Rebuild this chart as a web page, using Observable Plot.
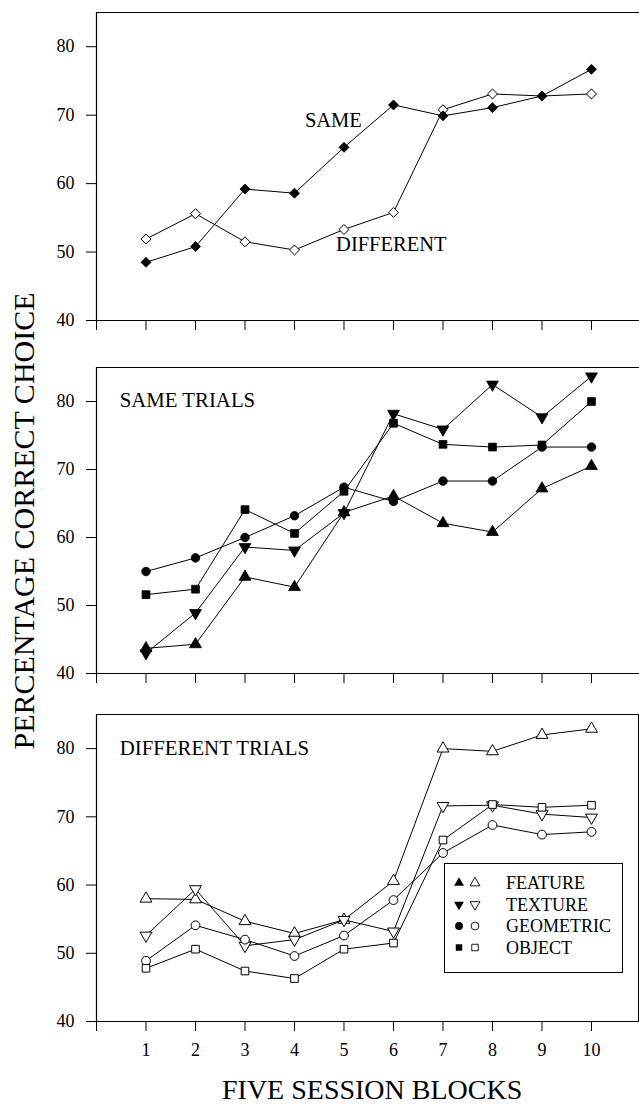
<!DOCTYPE html>
<html>
<head>
<meta charset="utf-8">
<script src="https://cdn.jsdelivr.net/npm/d3@7"></script>
<script src="https://cdn.jsdelivr.net/npm/@observablehq/plot@0.6"></script>
<style>
  html, body { margin: 0; padding: 0; background: #fff; }
  #chart { position: relative; width: 639px; height: 1108px; overflow: hidden; font-family: "Liberation Serif", "DejaVu Serif", serif; color: #000; }
  .abs { position: absolute; }
  .ylabel { position: absolute; font-size: 30px; line-height: 30px; white-space: nowrap; transform-origin: center center; }
  .xlabel { position: absolute; font-size: 28px; line-height: 28px; white-space: nowrap; }
</style>
</head>
<body>
<div id="chart"></div>
<script>
// ---- data ----
const blocks = [1, 2, 3, 4, 5, 6, 7, 8, 9, 10];
const xTicks = [0, 1, 2, 3, 4, 5, 6, 7, 8, 9, 10];
const yTicks = [40, 50, 60, 70, 80];

const topSame      = [48.5, 50.8, 59.2, 58.6, 65.3, 71.5, 69.9, 71.1, 72.8, 76.7];
const topDifferent = [51.9, 55.6, 51.5, 50.3, 53.3, 55.8, 70.8, 73.1, 72.8, 73.1];

const sameFeature   = [43.7, 44.3, 54.2, 52.7, 63.7, 66.1, 62.1, 60.8, 67.2, 70.5];
const sameTexture   = [43.0, 48.9, 58.6, 58.1, 63.6, 78.2, 75.9, 82.5, 77.7, 83.7];
const sameGeometric = [55.0, 57.0, 60.0, 63.2, 67.4, 65.3, 68.3, 68.3, 73.3, 73.3];
const sameObject    = [51.6, 52.4, 64.1, 60.6, 66.8, 76.8, 73.7, 73.3, 73.6, 80.0];

const diffFeature   = [58.0, 57.9, 54.7, 52.9, 54.9, 60.6, 80.0, 79.6, 82.0, 82.9];
const diffTexture   = [52.6, 59.4, 51.1, 52.0, 54.9, 53.2, 71.6, 71.7, 70.4, 69.9];
const diffGeometric = [48.9, 54.1, 52.0, 49.6, 52.6, 57.8, 64.7, 68.8, 67.4, 67.8];
const diffObject    = [47.8, 50.6, 47.4, 46.3, 50.6, 51.5, 66.6, 71.8, 71.4, 71.7];

const legendNames = ["FEATURE", "TEXTURE", "GEOMETRIC", "OBJECT"];
const yAxisTitle = "PERCENTAGE CORRECT CHOICE";
const xAxisTitle = "FIVE SESSION BLOCKS";

// ---- helpers ----
const FONT = "'Liberation Serif', 'DejaVu Serif', serif";
const X_DOMAIN = [0, 10.97];
const Y_DOMAIN = [40, 85];
const X_RIGHT_BORDER = 10.95;

function rows(values) { return blocks.map((b, i) => ({block: b, value: values[i]})); }

function seriesMarks(values, symbol, filled, r, rotate = 0) {
  const d = rows(values);
  return [
    Plot.line(d, {x: "block", y: "value", stroke: "#000", strokeWidth: 1}),
    Plot.dot(d, {x: "block", y: "value", symbol, r, rotate,
                 fill: filled ? "#000" : "#fff", stroke: "#000", strokeWidth: filled ? 0.8 : 1})
  ];
}

function panel({top, height, marginTop, marginBottom, series, notes, showXLabels, rightBorder}) {
  const marks = [
    Plot.ruleY([Y_DOMAIN[1]], {x1: X_DOMAIN[0], x2: X_DOMAIN[1], stroke: "#000", strokeWidth: 1}),
    Plot.ruleY([Y_DOMAIN[0]], {x1: X_DOMAIN[0], x2: X_DOMAIN[1], stroke: "#000", strokeWidth: 1.2}),
    Plot.ruleX([X_DOMAIN[0]], {y1: Y_DOMAIN[0], y2: Y_DOMAIN[1], stroke: "#000", strokeWidth: 1.2}),
    Plot.axisY({ticks: yTicks, tickSize: 10, tickPadding: 12, fontSize: 18, tickFormat: d => d, label: null}),
    Plot.axisX({ticks: xTicks, tickSize: 10, tickPadding: 12, fontSize: 18, label: null,
                tickFormat: showXLabels ? (d => d === 0 ? "" : d) : (() => "")})
  ];
  if (rightBorder) marks.push(Plot.ruleX([X_RIGHT_BORDER], {y1: Y_DOMAIN[0], y2: Y_DOMAIN[1], stroke: "#000", strokeWidth: 1}));
  for (const s of series) marks.push(...seriesMarks(s.values, s.symbol, s.filled, s.r, s.rotate || 0));
  for (const n of notes) {
    marks.push(Plot.text([n.text], {x: () => n.x, y: () => n.y, text: d => d, textAnchor: "start",
      lineAnchor: "middle", fontSize: n.size, fill: "#000", fontFamily: FONT}));
  }
  const p = Plot.plot({
    width: 639, height,
    marginTop, marginBottom, marginLeft: 96, marginRight: 0,
    x: {domain: X_DOMAIN, axis: null},
    y: {domain: Y_DOMAIN, axis: null},
    style: {fontFamily: FONT, color: "#000", background: "transparent", overflow: "visible"},
    marks
  });
  p.style.position = "absolute";
  p.style.left = "0px";
  p.style.top = top + "px";
  p.style.overflow = "visible";
  return p;
}

const chart = document.getElementById("chart");

// top panel
chart.appendChild(panel({
  top: 0, height: 332, marginTop: 12, marginBottom: 12,
  series: [
    {values: topDifferent, symbol: "diamond2", filled: false, r: 4.5},
    {values: topSame, symbol: "diamond2", filled: true, r: 4.5}
  ],
  notes: [
    {text: "SAME", x: 4.21, y: 69.2, size: 20.5},
    {text: "DIFFERENT", x: 4.84, y: 51.1, size: 20.5}
  ],
  showXLabels: false, rightBorder: false
}));

// middle panel
chart.appendChild(panel({
  top: 340, height: 345, marginTop: 27, marginBottom: 12,
  series: [
    {values: sameFeature, symbol: "triangle", filled: true, r: 4.4},
    {values: sameTexture, symbol: "triangle", filled: true, r: 4.4, rotate: 180},
    {values: sameGeometric, symbol: "circle", filled: true, r: 4.3},
    {values: sameObject, symbol: "square", filled: true, r: 4.4}
  ],
  notes: [{text: "SAME TRIALS", x: 0.47, y: 80.2, size: 20.8}],
  showXLabels: false, rightBorder: false
}));

// bottom panel
chart.appendChild(panel({
  top: 690, height: 381, marginTop: 24, marginBottom: 50,
  series: [
    {values: diffFeature, symbol: "triangle", filled: false, r: 4.4},
    {values: diffTexture, symbol: "triangle", filled: false, r: 4.4, rotate: 180},
    {values: diffGeometric, symbol: "circle", filled: false, r: 4.4},
    {values: diffObject, symbol: "square", filled: false, r: 4.3}
  ],
  notes: [{text: "DIFFERENT TRIALS", x: 0.47, y: 80.1, size: 20.8}],
  showXLabels: true, rightBorder: true
}));

// legend (bottom panel)
const legendSymbols = [
  {symbol: d3.symbolTriangle, rotate: 0, size: 42},
  {symbol: d3.symbolTriangle, rotate: 180, size: 42},
  {symbol: d3.symbolCircle, rotate: 0, size: 48},
  {symbol: d3.symbolSquare, rotate: 0, size: 42}
];
const lg = d3.select(chart).append("svg")
  .attr("class", "abs")
  .style("left", "444px").style("top", "863px")
  .attr("width", 180).attr("height", 111);
lg.append("rect").attr("x", 0.5).attr("y", 0.5).attr("width", 178).attr("height", 109)
  .attr("fill", "#fff").attr("stroke", "#000").attr("stroke-width", 1);
legendNames.forEach((name, i) => {
  const cy = 20 + i * 21.5;
  const s = legendSymbols[i];
  const path = d3.symbol(s.symbol, s.size)();
  lg.append("path").attr("d", path).attr("fill", "#000")
    .attr("transform", `translate(15,${cy}) rotate(${s.rotate})`);
  lg.append("path").attr("d", path).attr("fill", "#fff").attr("stroke", "#000").attr("stroke-width", 0.9)
    .attr("transform", `translate(31,${cy}) rotate(${s.rotate})`);
  lg.append("text").attr("x", 62).attr("y", cy).attr("dy", "0.35em")
    .attr("font-family", FONT).attr("font-size", 18).text(name);
});

// axis titles
const yl = document.createElement("div");
yl.className = "ylabel";
yl.textContent = yAxisTitle;
chart.appendChild(yl);
const ylw = yl.offsetWidth, ylh = yl.offsetHeight;
yl.style.left = (23 - ylw / 2) + "px";
yl.style.top = (521 - ylh / 2) + "px";
yl.style.transform = "rotate(-90deg)";

const xl = document.createElement("div");
xl.className = "xlabel";
xl.textContent = xAxisTitle;
chart.appendChild(xl);
xl.style.left = (372 - xl.offsetWidth / 2) + "px";
xl.style.top = (1090 - xl.offsetHeight / 2) + "px";
</script>
</body>
</html>
